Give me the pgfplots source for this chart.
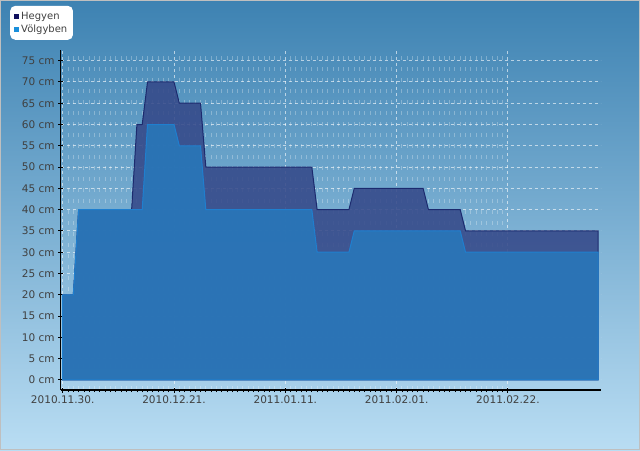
\documentclass[border=0pt]{standalone}
\usepackage{pgfplots}
\pgfplotsset{compat=1.18}
\usepackage{fontspec}
\setmainfont{DejaVu Sans}
\definecolor{bgtop}{HTML}{3D82B2}
\definecolor{bgbot}{HTML}{B9DDF3}
\definecolor{darkfill}{HTML}{354989}
\definecolor{darkedge}{HTML}{1C2A6E}
\definecolor{lightfill}{HTML}{2977B9}
\definecolor{lightedge}{HTML}{1F7FCF}
\definecolor{legdark}{HTML}{10105E}
\definecolor{leglight}{HTML}{1A8FDB}
\definecolor{txt}{HTML}{404040}
\begin{document}
\begin{tikzpicture}[x=1pt,y=1pt]
\useasboundingbox (0,0) rectangle (640,450);
\shade[top color=bgtop, bottom color=bgbot] (0,0) rectangle (640,450);
\begin{axis}[
  at={(60.7pt,60pt)}, anchor=south west,
  scale only axis, width=540pt, height=340pt,
  xmin=-0.38, xmax=101.5, ymin=-2.35, ymax=77.5,
  axis x line*=bottom, axis y line*=left,
  axis line style={black, line width=1.3pt, -},
  xtick={0,21,42,63,84},
  xticklabels={2010.11.30.,2010.12.21.,2011.01.11.,2011.02.01.,2011.02.22.},
  minor x tick num=20,
  ytick={0,5,...,75},
  yticklabel={\pgfmathprintnumber{\tick}~cm},
  /pgf/number format/assume math mode=true,
  tick label style={font=\fontsize{10.5}{12}\selectfont, text=txt},
  tick align=center,
  major tick length=5pt,
  minor tick length=2pt,
  tick style={black, line width=1pt},
  minor tick style={black, line width=0.8pt, yshift=-1pt},
  xmajorgrids, ymajorgrids, xminorgrids,
  major grid style={white, opacity=0.6, line width=1pt, dash pattern=on 3.3pt off 2.7pt},
  minor grid style={white, opacity=0.28, line width=1pt, dash pattern=on 4pt off 7pt},
  legend style={at={(-0.0939,1.1303)}, anchor=north west, draw=none, fill=white,
    rounded corners=5pt, font=\fontsize{10}{12}\selectfont, text=txt,
    inner xsep=3.7pt, inner ysep=4pt, row sep=0pt, nodes={inner sep=2pt}},
  legend cell align=left,
  legend image code/.code={\fill[#1, sharp corners] (0pt,-2.65pt) rectangle (5.3pt,2.65pt);},
]
\addlegendimage{fill=legdark, draw=none}
\addlegendentry{Hegyen}
\addlegendimage{fill=leglight, draw=none}
\addlegendentry{Völgyben\hspace{7pt}}
\addplot[fill=darkfill, fill opacity=0.88, draw=darkedge, line width=1pt, forget plot] table {
x y
0 20
2 20
3 40
13 40
14 60
15 60
16 70
21 70
22 65
26 65
27 50
47 50
48 40
54 40
55 45
68 45
69 40
75 40
76 35
101 35
} \closedcycle;
\addplot[fill=lightfill, fill opacity=0.9, draw=lightedge, line width=1pt, forget plot] table {
x y
0 20
2 20
3 40
15 40
16 60
21 60
22 55
26 55
27 40
47 40
48 30
54 30
55 35
75 35
76 30
101 30
} \closedcycle;
\end{axis}
\draw[black!25, line width=1pt] (0.5,0.5) rectangle (639.5,449.5);
\end{tikzpicture}
\end{document}
